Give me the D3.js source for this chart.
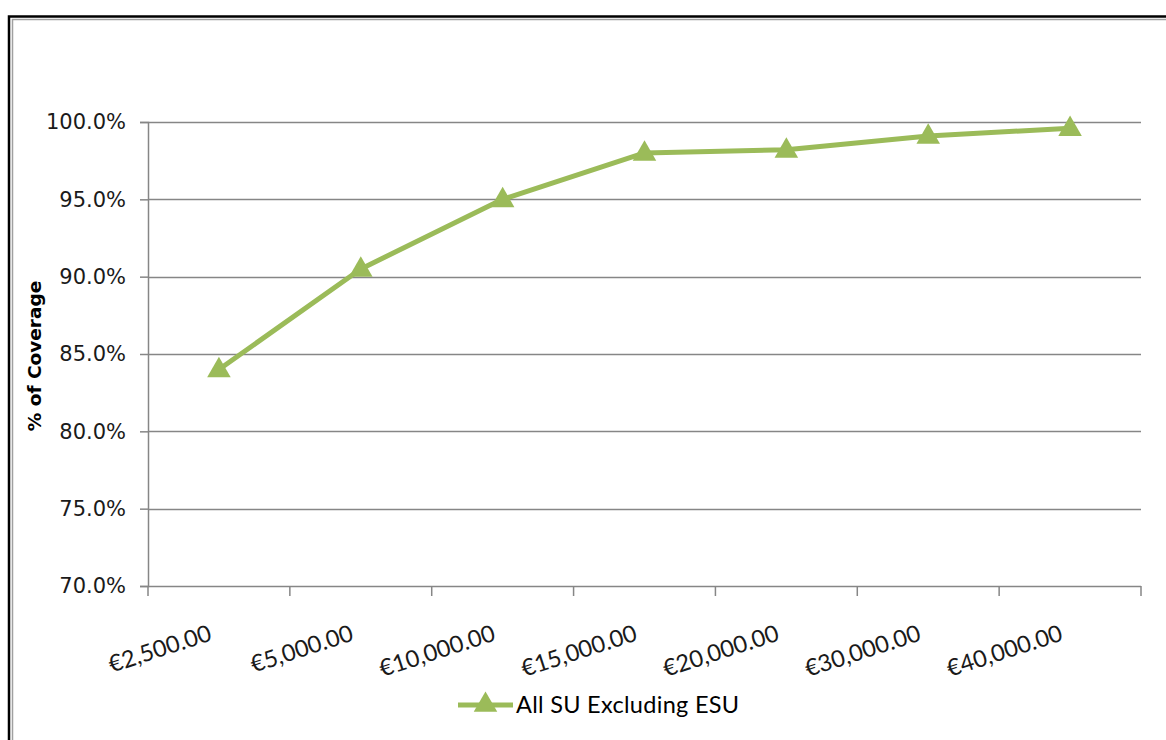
<!DOCTYPE html>
<html>
<head>
<meta charset="utf-8">
<script src="https://cdn.jsdelivr.net/npm/d3@7"></script>
<style>
  html, body { margin: 0; padding: 0; background: #fff; }
  svg { display: block; }
</style>
</head>
<body>
<svg id="chart" width="1166" height="740"></svg>
<script>
// Income thresholds and cumulative coverage share
const categories = ["€2,500.00", "€5,000.00", "€10,000.00", "€15,000.00", "€20,000.00", "€30,000.00", "€40,000.00"];
const coverage = [0.840, 0.905, 0.950, 0.980, 0.982, 0.991, 0.996];
const yTicks = [0.70, 0.75, 0.80, 0.85, 0.90, 0.95, 1.00];
const seriesName = "All SU Excluding ESU";
const yTitle = "% of Coverage";

const svg = d3.select("#chart");
const W = 1166, H = 740;
const plot = { left: 148, right: 1141, top: 122, bottom: 586 };
const green = "#9BBB59";
const axisGrey = "#868686";

// Frame: outer black edge with a thin grey inner edge
svg.append("path")
  .attr("d", `M9,${H + 5} L9,16.5 L${W + 5},16.5`)
  .attr("fill", "none").attr("stroke", "#000").attr("stroke-width", 2.5);
svg.append("path")
  .attr("d", `M12.5,${H + 5} L12.5,19.5 L${W + 5},19.5`)
  .attr("fill", "none").attr("stroke", "#a0a0a0").attr("stroke-width", 1.5);

const x = d3.scaleBand().domain(categories).range([plot.left, plot.right]).padding(0);
const y = d3.scaleLinear().domain([0.70, 1.00]).range([plot.bottom, plot.top]);

// Horizontal gridlines
svg.append("g")
  .selectAll("line")
  .data(yTicks.filter(t => t > 0.70))
  .join("line")
  .attr("x1", plot.left).attr("x2", plot.right)
  .attr("y1", d => Math.round(y(d)) + 0.5).attr("y2", d => Math.round(y(d)) + 0.5)
  .attr("stroke", axisGrey).attr("stroke-width", 1.5);

// Y axis
const yAxis = d3.axisLeft(y).tickValues(yTicks).tickSize(8).tickPadding(14)
  .tickFormat(d => d3.format(".1f")(d * 100) + "%");
const gy = svg.append("g").attr("transform", `translate(${plot.left},0)`).call(yAxis);
gy.select(".domain").attr("stroke", axisGrey).attr("stroke-width", 1.5);
gy.selectAll(".tick line").attr("stroke", axisGrey).attr("stroke-width", 1.5);
gy.selectAll(".tick text")
  .attr("font-family", "'DejaVu Sans', sans-serif")
  .attr("font-size", 21).attr("fill", "#1a1a1a");

// X axis: ticks at the category boundaries
const bounds = categories.map(c => x(c)).concat([plot.right]);
const gx = svg.append("g");
gx.append("line")
  .attr("x1", plot.left).attr("x2", plot.right)
  .attr("y1", plot.bottom + 0.5).attr("y2", plot.bottom + 0.5)
  .attr("stroke", axisGrey).attr("stroke-width", 1.5);
gx.selectAll("line.tk")
  .data(bounds)
  .join("line").attr("class", "tk")
  .attr("x1", d => d).attr("x2", d => d)
  .attr("y1", plot.bottom).attr("y2", plot.bottom + 10)
  .attr("stroke", axisGrey).attr("stroke-width", 1.5);
gx.selectAll("text")
  .data(categories)
  .join("text")
  .attr("transform", d => `translate(${x(d) + x.bandwidth() / 2 - 6},${plot.bottom + 54}) rotate(-18)`)
  .attr("text-anchor", "end")
  .attr("font-family", "Lato, sans-serif")
  .attr("font-size", 23.5)
  .attr("fill", "#1a1a1a")
  .text(d => d);

// Y axis title
svg.append("text")
  .attr("transform", `translate(41,356) rotate(-90)`)
  .attr("text-anchor", "middle")
  .attr("font-family", "'DejaVu Sans', sans-serif")
  .attr("font-weight", "bold")
  .attr("font-size", 18.5)
  .attr("fill", "#000")
  .text(yTitle);

// Series line and triangle markers
const data = categories.map((c, i) => ({ c, v: coverage[i] }));
const cx = d => x(d.c) + x.bandwidth() / 2;

svg.append("path")
  .datum(data)
  .attr("d", d3.line().x(cx).y(d => y(d.v)))
  .attr("fill", "none")
  .attr("stroke", green)
  .attr("stroke-width", 5)
  .attr("stroke-linejoin", "round");

const tri = d3.symbol(d3.symbolTriangle, 240);
svg.append("g")
  .selectAll("path")
  .data(data)
  .join("path")
  .attr("transform", d => `translate(${cx(d)},${y(d.v) + 1})`)
  .attr("d", tri)
  .attr("fill", green);

// Legend
const lg = svg.append("g").attr("transform", "translate(458,705)");
lg.append("line").attr("x1", 0).attr("x2", 55).attr("y1", 0).attr("y2", 0)
  .attr("stroke", green).attr("stroke-width", 5);
lg.append("path").attr("transform", "translate(27.5,0)").attr("d", tri).attr("fill", green);
lg.append("text")
  .attr("x", 58).attr("y", 8)
  .attr("font-family", "Lato, sans-serif")
  .attr("font-size", 23.5)
  .attr("letter-spacing", 0.3)
  .attr("fill", "#000")
  .text(seriesName);
</script>
</body>
</html>
